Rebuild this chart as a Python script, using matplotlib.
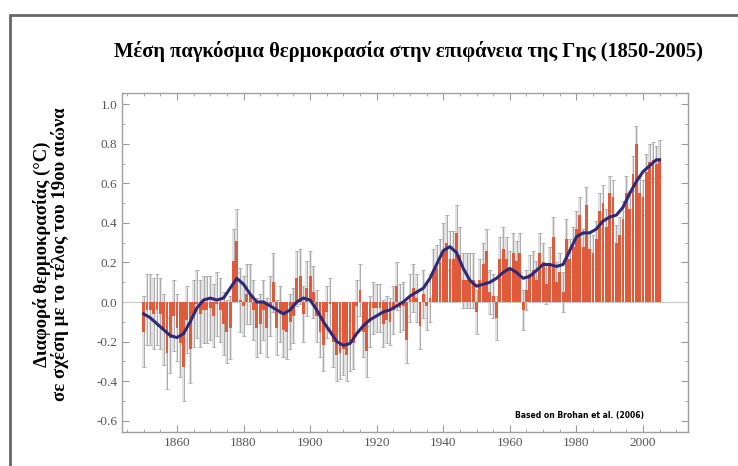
import numpy as np
import matplotlib
matplotlib.use("Agg")
import matplotlib.pyplot as plt
from matplotlib.ticker import MultipleLocator
from matplotlib.patches import Rectangle

years = np.arange(1850, 2006)

# annual anomaly (deg C)
anom = [
    -0.15, -0.04, -0.04, -0.06, -0.04, -0.06, -0.14, -0.26, -0.18, -0.07,
    -0.13, -0.21, -0.33, -0.09, -0.24, -0.06, -0.01, -0.06, -0.04, -0.04,
    -0.03, -0.07, -0.01, -0.04, -0.11, -0.15, -0.13, 0.21, 0.31, 0.01,
    -0.02, 0.04, 0.04, -0.04, -0.13, -0.11, -0.04, -0.13, -0.02, 0.10,
    -0.13, -0.06, -0.14, -0.15, -0.10, -0.07, 0.12, 0.13, -0.06, 0.07,
    0.13, 0.05, -0.07, -0.15, -0.22, -0.05, -0.01, -0.20, -0.27, -0.26,
    -0.24, -0.27, -0.22, -0.21, -0.02, 0.06, -0.15, -0.25, -0.10, -0.03,
    -0.03, -0.03, -0.11, -0.09, -0.10, -0.04, 0.08, -0.03, -0.02, -0.19,
    0.02, 0.07, 0.02, -0.12, 0.04, -0.02, 0.02, 0.15, 0.17, 0.20,
    0.26, 0.30, 0.22, 0.22, 0.35, 0.24, 0.11, 0.11, 0.11, 0.11,
    -0.05, 0.11, 0.19, 0.26, 0.05, 0.03, -0.08, 0.22, 0.27, 0.22,
    0.16, 0.25, 0.21, 0.25, -0.04, 0.06, 0.14, 0.16, 0.11, 0.25,
    0.20, 0.09, 0.18, 0.33, 0.10, 0.15, 0.05, 0.32, 0.22, 0.28,
    0.37, 0.44, 0.28, 0.49, 0.27, 0.25, 0.32, 0.46, 0.50, 0.38,
    0.55, 0.53, 0.30, 0.34, 0.42, 0.55, 0.47, 0.65, 0.80, 0.55,
    0.53, 0.66, 0.71, 0.72, 0.70, 0.73,
]
anom = np.array(anom)

# uncertainty half-width per decade (1850s ... 2000s)
err_decade = [0.18, 0.17, 0.16, 0.15, 0.14, 0.13, 0.13, 0.12,
              0.12, 0.14, 0.11, 0.10, 0.10, 0.09, 0.09, 0.09]
err = np.array([err_decade[(y - 1850) // 10] for y in years])

# smoothed curve, read every two years
smooth_years = list(range(1850, 2005, 2)) + [2005]
smooth = [
    -0.06, -0.08, -0.11, -0.14, -0.17, -0.18, -0.16, -0.10, -0.03, 0.01,
    0.02, 0.01, 0.02, 0.07, 0.12, 0.09, 0.04, 0.00, 0.00, -0.02,
    -0.04, -0.06, -0.04, 0.00, 0.02, 0.01, -0.04, -0.10, -0.15, -0.20,
    -0.22, -0.21, -0.16, -0.12, -0.09, -0.07, -0.05, -0.04, -0.02, 0.00,
    0.03, 0.05, 0.07, 0.12, 0.19, 0.26, 0.28, 0.25, 0.17, 0.11,
    0.08, 0.09, 0.10, 0.12, 0.15, 0.17, 0.15, 0.12, 0.13, 0.16,
    0.19, 0.19, 0.18, 0.19, 0.26, 0.33, 0.35, 0.35, 0.37, 0.41,
    0.43, 0.44, 0.48, 0.55, 0.61, 0.66, 0.69, 0.72, 0.72,
]

title = "Μέση παγκόσμια θερμοκρασία στην επιφάνεια της Γης (1850-2005)"
ylabel = "Διαφορά θερμοκρασίας (°C)\nσε σχέση με το τέλος του 19ου αιώνα"
credit = "Based on Brohan et al. (2006)"

plt.rcParams['font.family'] = ['Liberation Serif', 'DejaVu Serif']

fig = plt.figure(figsize=(7.38, 4.66), dpi=100)
ax = fig.add_axes([0.1653, 0.073, 0.7669, 0.7274])

# outer frame of the original picture (cut off at right and bottom)
fig.patches.append(Rectangle((10 / 738, -0.1), 1.2, 1 - 15 / 466 + 0.1,
                             transform=fig.transFigure, fill=False,
                             edgecolor='#666666', linewidth=2))

ax.bar(years, 2 * err, bottom=anom - err, width=0.85, color='#e2e2e2',
       edgecolor='none', zorder=1)
ax.errorbar(years, anom, yerr=err, fmt='none', ecolor='#ababab',
            elinewidth=0.7, capsize=1.2, capthick=0.6, zorder=2)
ax.bar(years, anom, width=0.85, color='#e05a3c', edgecolor='none', zorder=3)
ax.axhline(0, color='#c8c8c8', linewidth=0.8, zorder=2.5)
ax.plot(smooth_years, smooth, color='#2d2a78', linewidth=2.2, zorder=4)

ax.set_xlim(1843.5, 2013.5)
ax.set_ylim(-0.658, 1.058)
ax.xaxis.set_major_locator(MultipleLocator(20))
ax.xaxis.set_minor_locator(MultipleLocator(5))
ax.yaxis.set_major_locator(MultipleLocator(0.2))
ax.yaxis.set_minor_locator(MultipleLocator(0.1))
ax.tick_params(which='both', direction='in', top=True, right=True,
               color='#999999', labelsize=9.5, labelcolor='#555555')
ax.tick_params(which='major', length=5)
ax.tick_params(which='minor', length=2.5)
for s in ax.spines.values():
    s.set_color('#a0a0a0')
    s.set_linewidth(1.0)

ax.set_yticks(np.arange(-0.6, 1.01, 0.2))
ax.set_yticklabels([f"{v:.1f}" for v in np.arange(-0.6, 1.01, 0.2)])

fig.text(0.553, 1 - 52 / 466, title, ha='center', va='center',
         fontsize=14.8, fontweight='bold')
fig.text(51 / 738, 1 - 254 / 466, ylabel, ha='center', va='center',
         rotation=90, fontsize=13.5, fontweight='bold', linespacing=1.0)
ax.text(1981, -0.577, credit, ha='center', va='center', fontsize=5.5,
        fontweight='heavy', family='DejaVu Sans', color='black')

fig.savefig("out.png", dpi=100)
